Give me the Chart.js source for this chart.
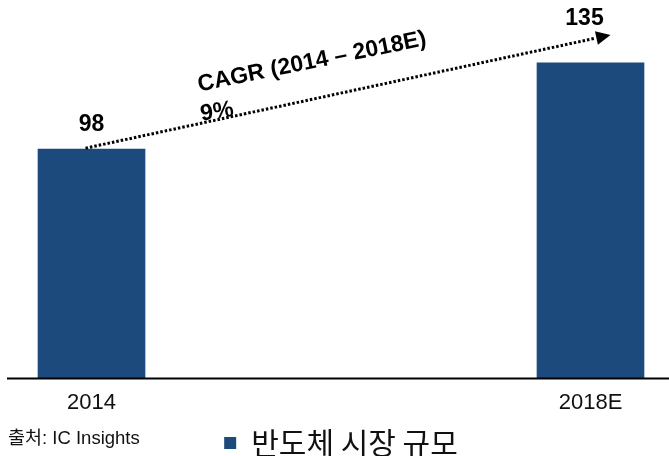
<!DOCTYPE html>
<html>
<head>
<meta charset="utf-8">
<script src="https://cdn.jsdelivr.net/npm/chart.js@4.4.0/dist/chart.umd.min.js"></script>
<style>
  html, body { margin: 0; padding: 0; background: #fff; }
  #wrap { width: 669px; height: 456px; position: relative; }
</style>
</head>
<body>
<div id="wrap"><canvas id="chart"></canvas></div>
<script>
const years = ['2014', '2018E'];
const marketSize = [98, 135];
const seriesName = '반도체 시장 규모';
const cagrLabel = 'CAGR (2014 – 2018E)';
const cagrValue = '9%';
const sourceNote = '출처: IC Insights';

const barColor = '#1c4a7c';

// value labels, baseline, CAGR arrow and source note
const extras = {
    id: 'extras',
    afterDatasetsDraw(chart) {
        const ctx = chart.ctx;
        const x = chart.scales.x;
        const y = chart.scales.y;
        const area = chart.chartArea;

        // baseline across the whole width
        ctx.save();
        ctx.strokeStyle = '#000';
        ctx.lineWidth = 2;
        ctx.beginPath();
        ctx.moveTo(7, area.bottom + 1);
        ctx.lineTo(chart.width, area.bottom + 1);
        ctx.stroke();

        // value labels
        ctx.fillStyle = '#000';
        ctx.font = 'bold 23px "Liberation Sans", Arial, sans-serif';
        ctx.textAlign = 'center';
        ctx.textBaseline = 'middle';
        const lift = [25, 44];
        const shift = [0, -6];
        marketSize.forEach((v, i) => {
            ctx.fillText(String(v), x.getPixelForValue(i) + shift[i], y.getPixelForValue(v) - lift[i]);
        });

        // dotted CAGR arrow
        const x0 = x.getPixelForValue(0) - 6, y0 = y.getPixelForValue(marketSize[0]) - 1;
        const x1 = x.getPixelForValue(1) + 20, y1 = y.getPixelForValue(147);
        const ang = Math.atan2(y1 - y0, x1 - x0);
        const headLen = 16;
        ctx.strokeStyle = '#000';
        ctx.lineWidth = 3;
        ctx.setLineDash([2.5, 2]);
        ctx.beginPath();
        ctx.moveTo(x0, y0);
        ctx.lineTo(x1 - headLen * Math.cos(ang), y1 - headLen * Math.sin(ang));
        ctx.stroke();
        ctx.setLineDash([]);
        ctx.beginPath();
        ctx.moveTo(x1, y1);
        ctx.lineTo(x1 - headLen * Math.cos(ang - 0.45), y1 - headLen * Math.sin(ang - 0.45));
        ctx.lineTo(x1 - headLen * Math.cos(ang + 0.45), y1 - headLen * Math.sin(ang + 0.45));
        ctx.closePath();
        ctx.fill();

        // CAGR text
        ctx.font = 'bold 23px "Liberation Sans", Arial, sans-serif';
        ctx.save();
        ctx.translate(312, 62);
        ctx.rotate(-11.5 * Math.PI / 180);
        ctx.fillText(cagrLabel, 0, 0);
        ctx.restore();
        ctx.save();
        ctx.translate(217, 112);
        ctx.rotate(-9 * Math.PI / 180);
        ctx.fillText(cagrValue, 0, 0);
        ctx.restore();

        // source
        ctx.font = '18.5px "Liberation Sans", "Noto Sans CJK KR", sans-serif';
        ctx.textAlign = 'left';
        ctx.fillStyle = '#111';
        ctx.fillText(sourceNote, 8, 439);
        ctx.restore();
    }
};

new Chart(document.getElementById('chart'), {
    type: 'bar',
    data: {
        labels: years,
        datasets: [{
            label: seriesName,
            data: marketSize,
            backgroundColor: barColor,
            barThickness: 107,
            clip: false
        }]
    },
    options: {
        responsive: true,
        maintainAspectRatio: false,
        animation: false,
        layout: { padding: { left: 91.5, right: 78.5, top: 0, bottom: -12 } },
        scales: {
            x: {
                offset: false,
                grid: { display: false, drawTicks: false },
                border: { display: false },
                ticks: {
                    color: '#111',
                    padding: 12,
                    maxRotation: 0,
                    font: { family: '"Liberation Sans", Arial, sans-serif', size: 22 }
                }
            },
            y: {
                display: false,
                min: 0,
                max: 162
            }
        },
        plugins: {
            legend: {
                position: 'bottom',
                labels: {
                    boxWidth: 12,
                    boxHeight: 12,
                    padding: 0,
                    color: '#111',
                    font: { family: '"Noto Sans CJK KR", sans-serif', size: 30 }
                }
            },
            tooltip: { enabled: false }
        }
    },
    plugins: [extras]
});
</script>
</body>
</html>
